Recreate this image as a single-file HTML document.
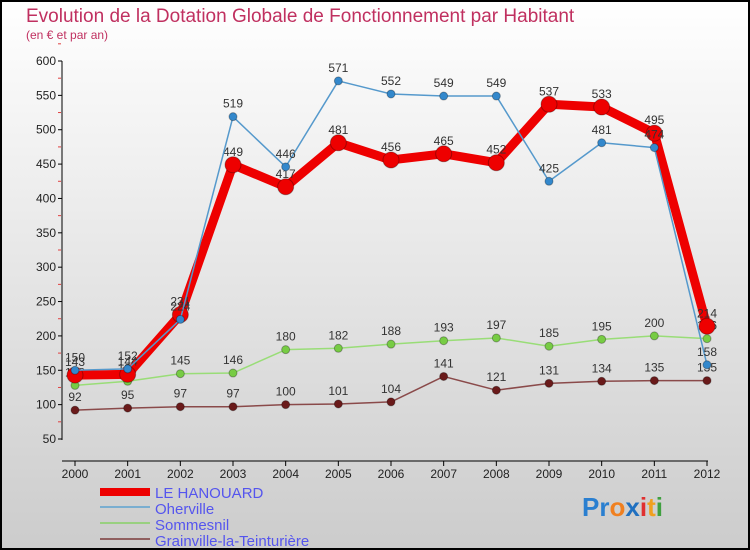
<!DOCTYPE html>
<html><head><meta charset="utf-8"><style>
body{margin:0;width:750px;height:550px;overflow:hidden}
svg{display:block;font-family:"Liberation Sans",sans-serif}
</style></head><body>
<svg id="c" width="750" height="550">
<defs><linearGradient id="bg" x1="0" y1="0" x2="0" y2="1"><stop offset="0" stop-color="#ffffff"/><stop offset="1" stop-color="#cccccc"/></linearGradient></defs>
<rect x="1" y="1" width="748" height="548" fill="url(#bg)" stroke="#000" stroke-width="2"/>
<text x="26" y="22" font-size="19" fill="#c03060">Evolution de la Dotation Globale de Fonctionnement par Habitant</text>
<text x="26" y="39" font-size="12" fill="#c03060">(en € et par an)</text>
<g id="axes"></g><g id="series"></g>
<g>
<rect x="100" y="488" width="50" height="8" fill="#ee0000"/>
<text x="155" y="498" font-size="15" fill="#5555ee">LE HANOUARD</text>
<line x1="100" y1="507" x2="150" y2="507" stroke="#7aaed0" stroke-width="2"/>
<text x="155" y="514" font-size="15" fill="#5555ee">Oherville</text>
<line x1="100" y1="523" x2="150" y2="523" stroke="#99d080" stroke-width="2"/>
<text x="155" y="530" font-size="15" fill="#5555ee">Sommesnil</text>
<line x1="100" y1="539" x2="150" y2="539" stroke="#906060" stroke-width="2"/>
<text x="155" y="546" font-size="15" fill="#5555ee">Grainville-la-Teinturière</text>
</g>
<text x="582" y="516" font-size="26" font-weight="bold"><tspan fill="#2a7fd0">Pr</tspan><tspan fill="#f08020">o</tspan><tspan fill="#2070c0">x</tspan><tspan fill="#e03030">i</tspan><tspan fill="#f0a020">t</tspan><tspan fill="#40a040">i</tspan></text>
</svg>
<script>
const years=[2000,2001,2002,2003,2004,2005,2006,2007,2008,2009,2010,2011,2012];
const hanouard=[143,144,231,449,417,481,456,465,452,537,533,495,214];
const oherville=[150,152,224,519,446,571,552,549,549,425,481,474,158];
const sommesnil=[128,134,145,146,180,182,188,193,197,185,195,200,196];
const grainville=[92,95,97,97,100,101,104,141,121,131,134,135,135];
const yTicks=[50,100,150,200,250,300,350,400,450,500,550,600];
const NS="http://www.w3.org/2000/svg";
const X=i=>75+i*(707-75)/12;
const Y=v=>439-(v-50)*(439-61)/550;
function mk(t,a,p){const e=document.createElementNS(NS,t);for(const k in a)e.setAttribute(k,a[k]);p.appendChild(e);return e;}
const ax=document.getElementById('axes');
const yl=mk('line',{x1:62,y1:61,x2:62,y2:440,stroke:'#000'},ax);


const xl=mk('line',{x1:62,y1:461,x2:708,y2:461,stroke:'#000'},ax);


yTicks.forEach(v=>{mk('line',{x1:58,y1:Y(v),x2:62,y2:Y(v),stroke:'#000'},ax);
mk('line',{x1:58,y1:Y(v+25),x2:61,y2:Y(v+25),stroke:'#e04040'},ax);
const t=mk('text',{x:56,y:Y(v)+4,'font-size':12,'text-anchor':'end',fill:'#222'},ax);t.textContent=v;

});
years.forEach((y,i)=>{mk('line',{x1:X(i),y1:461,x2:X(i),y2:466,stroke:'#000'},ax);
const t=mk('text',{x:X(i),y:478,'font-size':12,'text-anchor':'middle',fill:'#222'},ax);t.textContent=y;

});
const sg=document.getElementById('series');
function draw(vals,color,w,r,name,dot){
const g=mk('g',{},sg);


mk('polyline',{points:vals.map((v,i)=>X(i)+','+Y(v)).join(' '),fill:'none',stroke:color,'stroke-width':w,'stroke-linejoin':'round'},g);
vals.forEach((v,i)=>{const c=mk('circle',{cx:X(i),cy:Y(v),r:r,fill:dot,stroke:'rgba(0,0,0,0.3)'},g);


const t=mk('text',{x:X(i),y:Y(v)-9,'font-size':12,'text-anchor':'middle',fill:'#333'},g);t.textContent=v;

});}
draw(grainville,'#8a4a4a',1.5,4,'series-grainville','#6a1a1a');
draw(sommesnil,'#99dd77',1.5,4,'series-sommesnil','#77cc44');
draw(hanouard,'#ee0000',9,8,'series-le-hanouard','#ee0000');
draw(oherville,'#5599cc',1.5,4,'series-oherville','#3388cc');
</script>
</body></html>
